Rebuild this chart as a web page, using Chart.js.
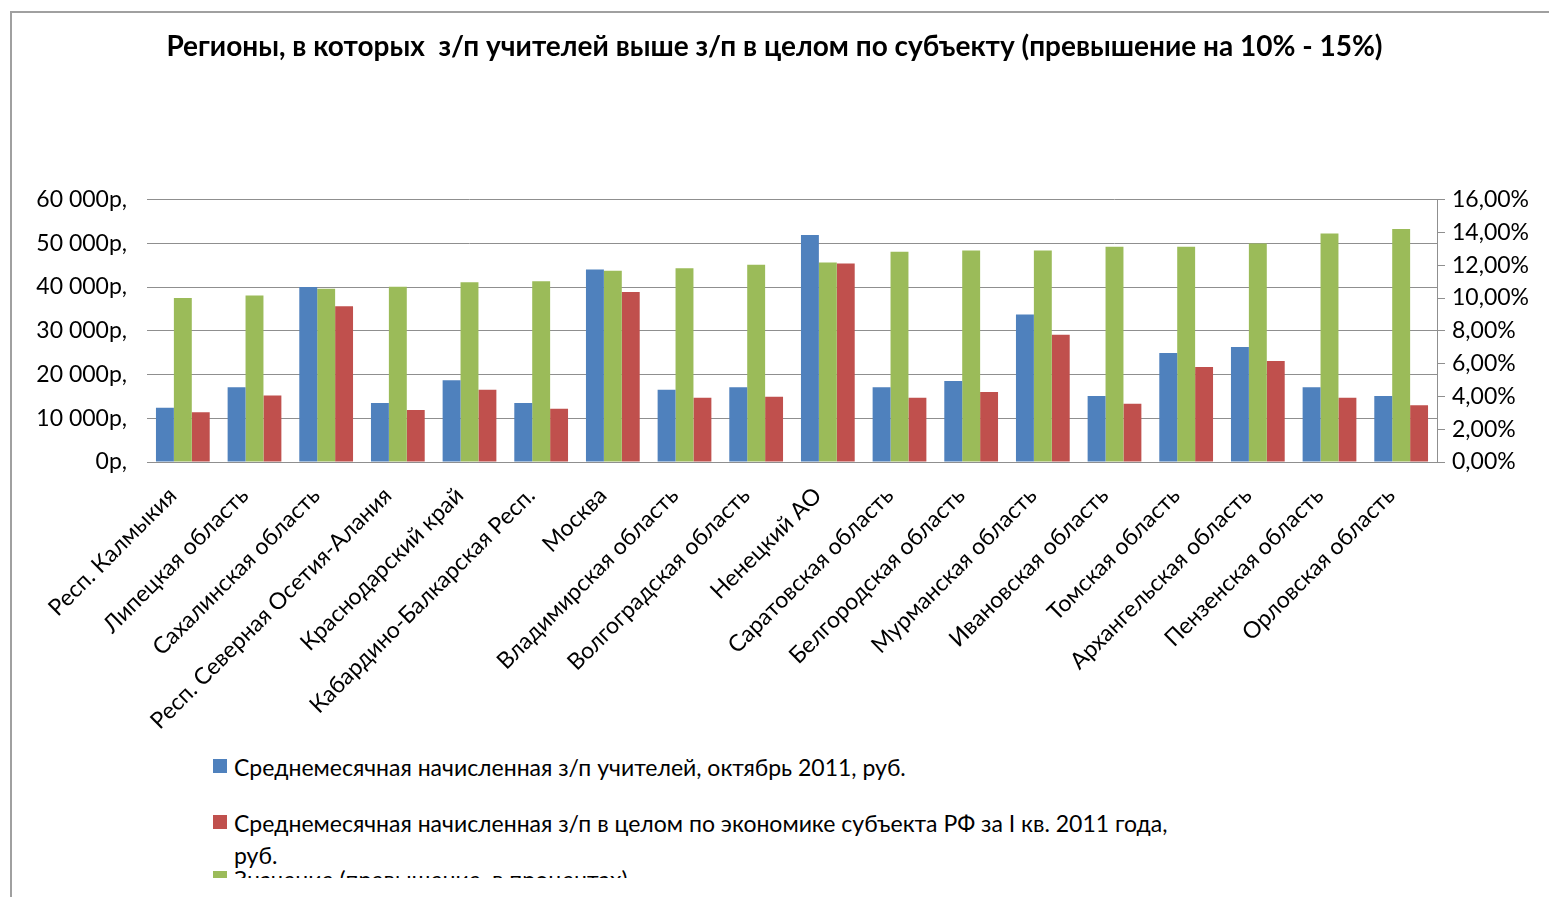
<!DOCTYPE html>
<html>
<head>
<meta charset="utf-8">
<script src="https://cdn.jsdelivr.net/npm/chart.js@4"></script>
<style>
  html, body { margin: 0; padding: 0; background: #fff; overflow: hidden; }
  .frame { position: absolute; left: 10px; top: 11px; width: 1600px; height: 1000px;
           border-left: 2px solid #a0a0a0; border-top: 2px solid #a0a0a0; }
  #chart_wrap { position: absolute; left: 0; top: 0; }
  .c-legend { position: absolute; left: 213px; top: 751px; width: 1000px; height: 127px;
              overflow: hidden; font-family: Lato, sans-serif; font-size: 23px; color: #000; }
  .c-legend__item { position: relative; padding-left: 21px; line-height: 32px; height: 32px;
                    margin-bottom: 24px; max-width: 955px; }
  .c-legend__box { position: absolute; left: 0; top: 8px; width: 14px; height: 14px; }
</style>
</head>
<body>
<div class="frame"></div>
<div id="chart_wrap"><canvas id="chart_ctx" width="1549" height="740"></canvas></div>
<div class="c-legend" id="legend"></div>
<script>
// categories
var regions = [
  'Респ. Калмыкия', 'Липецкая область', 'Сахалинская область', 'Респ. Северная Осетия-Алания',
  'Краснодарский край', 'Кабардино-Балкарская Респ.', 'Москва', 'Владимирская область',
  'Волгоградская область', 'Ненецкий АО', 'Саратовская область', 'Белгородская область',
  'Мурманская область', 'Ивановская область', 'Томская область', 'Архангельская область',
  'Пензенская область', 'Орловская область'
];
// руб.
var teacherPay = [12400, 17100, 40000, 13500, 18700, 13500, 44000, 16500, 17100,
                  51900, 17100, 18500, 33700, 15100, 24900, 26300, 17100, 15100];
var economyPay = [11400, 15200, 35600, 11900, 16500, 12200, 38900, 14700, 14900,
                  45400, 14700, 16000, 29100, 13300, 21700, 23100, 14700, 13000];
// %
var excessPct = [10.0, 10.15, 10.57, 10.69, 10.96, 11.02, 11.66, 11.81, 12.03,
                 12.17, 12.82, 12.9, 12.9, 13.12, 13.12, 13.33, 13.94, 14.2];

var seriesNames = [
  'Среднемесячная начисленная з/п учителей, октябрь 2011, руб.',
  'Среднемесячная начисленная з/п в целом по экономике субъекта РФ за  I кв. 2011 года, руб.',
  'Значение (превышение, в процентах)'
];

const fontFamily = 'Lato, "Open Sans", sans-serif';
const gridColor = '#8f8f8f';

var ctx = document.getElementById('chart_ctx');
var myChart = new Chart(ctx, {
  type: 'bar',
  data: {
    labels: regions,
    datasets: [
      { label: seriesNames[0], data: teacherPay, backgroundColor: '#4F81BD', yAxisID: 'y', legendOrder: 0 },
      { label: seriesNames[2], data: excessPct, backgroundColor: '#9BBB59', yAxisID: 'y1', legendOrder: 2 },
      { label: seriesNames[1], data: economyPay, backgroundColor: '#C0504D', yAxisID: 'y', legendOrder: 1 }
    ]
  },
  options: {
    responsive: false,
    animation: { duration: 0 }, // disable animate
    events: [],
    datasets: { bar: { categoryPercentage: 0.75, barPercentage: 1.0, borderWidth: 0 } },
    layout: { padding: { left: 0, right: 0, top: 0, bottom: 0 } },
    plugins: {
      legend: { display: false },
      tooltip: { enabled: false },
      title: {
        display: true,
        text: 'Регионы, в которых  з/п учителей выше з/п в целом по субъекту (превышение на 10% - 15%)',
        color: '#000',
        font: { family: fontFamily, size: 28, weight: 'bold' },
        padding: { top: 30, bottom: 136 }
      }
    },
    scales: {
      x: {
        grid: { display: false },
        border: { display: true, color: gridColor },
        ticks: {
          color: '#000', autoSkip: false, minRotation: 45, maxRotation: 45, padding: 12,
          labelOffset: -10,
          font: { family: fontFamily, size: 23 }
        },
        afterFit: function (scale) { scale.height = 278; }
      },
      y: {
        position: 'left', min: 0, max: 60000,
        grid: { color: gridColor, drawTicks: false },
        border: { display: false },
        ticks: {
          stepSize: 10000, padding: 20, color: '#000',
          font: { family: fontFamily, size: 23 },
          callback: function (v) {
            return String(v).replace(/\B(?=(\d{3})+(?!\d))/g, ' ') + 'р,';
          }
        },
        afterFit: function (scale) { scale.width = 147; }
      },
      y1: {
        position: 'right', min: 0, max: 16,
        grid: { drawOnChartArea: false, color: gridColor, tickLength: 8 },
        border: { display: true, color: gridColor },
        ticks: {
          stepSize: 2, padding: 7, color: '#000',
          font: { family: fontFamily, size: 23 },
          callback: function (v) { return v.toFixed(2).replace('.', ',') + '%'; }
        },
        afterFit: function (scale) { scale.width = 112; }
      }
    }
  }
});

// legend (order as in original: blue, red, green)
var legendEl = document.getElementById('legend');
myChart.data.datasets.slice().sort(function (a, b) { return a.legendOrder - b.legendOrder; })
  .forEach(function (ds) {
    var item = document.createElement('div');
    item.className = 'c-legend__item';
    item.innerHTML = '<span class="c-legend__box" style="background:' + ds.backgroundColor + '"></span>' + ds.label;
    legendEl.appendChild(item);
  });
</script>
</body>
</html>
